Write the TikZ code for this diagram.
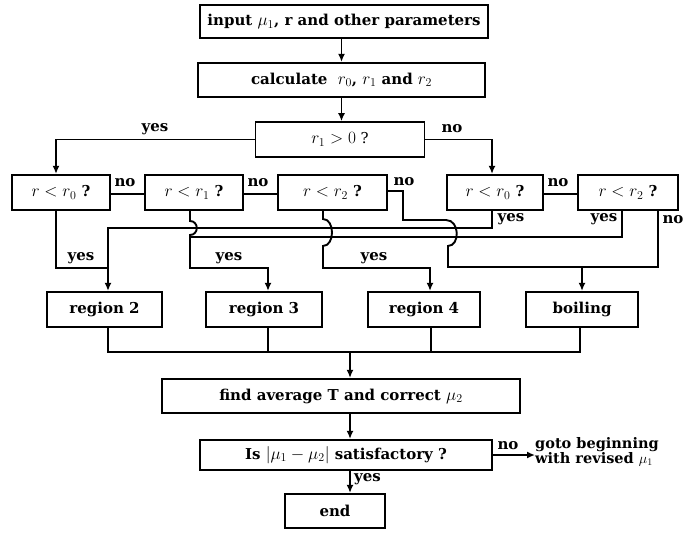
\documentclass[tikz,border=0pt]{standalone}
\usepackage{fontspec}
\setmainfont{DejaVu Serif}
\usetikzlibrary{arrows.meta}
\newcommand\mth[1]{{\fontsize{18}{18}\selectfont$#1$}}
\begin{document}
\begin{tikzpicture}[x=1pt,y=-1pt,
  txt/.style={font=\fontsize{15}{16}\selectfont\bfseries},
  box/.style={draw, line width=2.2pt, inner sep=0pt, txt},
  lbl/.style={inner sep=0pt, txt},
  line/.style={line width=1.9pt, line join=miter},
  arr/.style={line, -{Latex[length=8pt,width=7pt]}}]
\useasboundingbox (0,0) rectangle (692,535);
% top boxes
\node[box, minimum width=288, minimum height=33] (in) at (344,21.5) {input \mth{\mu_1}, r and other parameters};
\node[box, minimum width=287, minimum height=34] (calc) at (341.5,80) {calculate \ \mth{r_0}, \mth{r_1} and \mth{r_2}};
\node[box, line width=1.6pt, minimum width=169, minimum height=35, font=\fontsize{15}{16}\selectfont] (r1) at (340,139.5) {\mth{r_1>0} ?};
% decision row
\node[box, minimum width=98, minimum height=35] (A) at (61,192.5) {\mth{r<r_0} ?};
\node[box, minimum width=98, minimum height=35] (B) at (194,192.5) {\mth{r<r_1} ?};
\node[box, minimum width=109, minimum height=35] (C) at (332.5,192.5) {\mth{r<r_2} ?};
\node[box, minimum width=96, minimum height=35] (D) at (495,192.5) {\mth{r<r_0} ?};
\node[box, minimum width=100, minimum height=35] (E) at (628,192.5) {\mth{r<r_2} ?};
% region row
\node[box, minimum width=115, minimum height=35] (R2) at (104.5,309.5) {region 2};
\node[box, minimum width=116, minimum height=35] (R3) at (264,309.5) {region 3};
\node[box, minimum width=112, minimum height=35] (R4) at (424,309.5) {region 4};
\node[box, minimum width=112, minimum height=35] (boil) at (582,309.5) {boiling};
% bottom
\node[box, minimum width=358, minimum height=34] (find) at (341,396) {find average T and correct \mth{\mu_2}};
\node[box, minimum width=292, minimum height=30] (is) at (346,455) {Is \mth{|\mu_1-\mu_2|} satisfactory ?};
\node[box, minimum width=100, minimum height=34] (end) at (335,511) {end};
\node[lbl, anchor=west, align=left, font=\fontsize{14.5}{14}\selectfont\bfseries] (goto) at (535,452) {goto beginning\\with revised $\mu_1$};

% connectors top
\draw[arr] (in.south -| calc.north) -- (calc.north);
\draw[arr] (calc.south) -- (calc.south |- r1.north);
\draw[arr] (r1.west) -- (56,139.5) -- (A.north -| 56,0);
\node[lbl] (lyes0) at (155,129) {yes};
\draw[arr] (r1.east) -- (492,139.5) -- (D.north -| 492,0);
\node[lbl] (lno0) at (452,129) {no};

% no links in row
\draw[line] (A.east |- 0,194) -- (B.west |- 0,194);
\node[lbl] (lnoA) at (125,183) {no};
\draw[line] (B.east |- 0,194) -- (C.west |- 0,194);
\node[lbl] (lnoB) at (258,183) {no};
\draw[line] (D.east |- 0,194) -- (E.west |- 0,194);
\node[lbl] (lnoD) at (558,183) {no};

% C no and E no -> boiling
\draw[line] (C.east |- 0,191) -- (403,191) -- (403,220) -- (446,220)
  .. controls (460,220) and (460,246) .. (448,246) -- (448,267) -- (658,267) -- (E.south -| 658,0);
\coordinate (jb) at (582,267);
\draw[arr] (jb) -- (boil.north);
\node[lbl] (lnoC) at (404,182) {no};
\node[lbl] (lnoE) at (673,220) {no};

% D yes -> region 2
\draw[arr] (D.south -| 492,0) -- (492,228) -- (108,228) -- (R2.north -| 108,0);
\node[lbl] (lyesD) at (511,219) {yes};
% A yes
\draw[line] (A.south -| 56,0) -- (56,268) -- (108,268);
\node[lbl] (lyesA) at (81,258) {yes};
% E yes -> region 3
\draw[line] (E.south -| 622,0) -- (622,237) -- (190,237);
\node[lbl] (lyesE) at (604,219) {yes};
% B yes -> region 3
\draw[arr] (B.south -| 190,0) -- (190,221) .. controls (199,221) and (199,235) .. (190,235)
  -- (190,268) -- (268,268) -- (R3.north -| 268,0);
\node[lbl] (lyesB) at (229,258) {yes};
% C yes -> region 4
\draw[arr] (C.south -| 323,0) -- (323,219) .. controls (335,219) and (335,246) .. (323,246)
  -- (323,268) -- (430,268) -- (R4.north -| 430,0);
\node[lbl] (lyesC) at (374,258) {yes};

% merge
\draw[line] (R2.south -| 108,0) -- (108,352) -- (580,352) -- (boil.south -| 580,0);
\draw[line] (R3.south -| 268,0) -- (268,352);
\draw[line] (R4.south -| 431,0) -- (431,352);
\coordinate (jm) at (350,352);
\draw[arr] (jm) -- (find.north -| jm);
\draw[arr] (find.south -| 350,0) -- (is.north -| 350,0);
\draw[arr] (is.south -| 350,0) -- (end.north -| 350,0);
\node[lbl, anchor=west] (lyesI) at (354,479) {yes};
\draw[arr] (is.east) -- (goto.west |- is.east);
\node[lbl] (lnoI) at (508,446) {no};
\end{tikzpicture}
\end{document}
